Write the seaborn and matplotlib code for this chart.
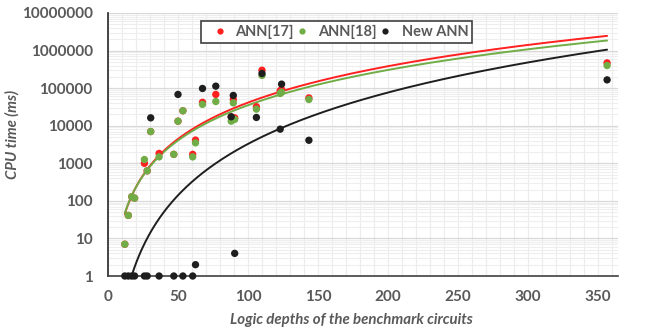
import numpy as np
import pandas as pd
import seaborn as sns
import matplotlib.pyplot as plt
from matplotlib.ticker import FixedLocator, LogLocator, MultipleLocator, NullFormatter

# logic depth of each benchmark circuit (same for all three methods)
depth = [12, 14.5, 17, 19, 26, 28, 30.5, 36.5, 47, 50, 53.5, 60.5, 62.5, 67.5,
         77, 88, 89.5, 90.5, 106, 110, 123, 124, 143.5, 356.5]
# CPU time (ms)
ann17 = [7, 41, 129, 118, 1000, 630, 7000, 1830, 1730, 13200, 25000, 1730, 4150, 42000,
         68000, 17000, 50000, 16200, 32000, 300000, 85000, 92000, 55000, 470000]
ann18 = [7, 41, 129, 118, 1260, 630, 7000, 1480, 1730, 13200, 25000, 1480, 3500, 37000,
         44000, 13200, 40500, 14700, 27600, 218000, 72000, 78000, 50000, 400000]
new_ann = [1, 1, 1, 1, 1, 1, 16200, 1, 1, 68000, 1, 1, 2, 98000,
           113000, 17300, 64000, 4, 16600, 245000, 8100, 128000, 4100, 166000]

x_ticks = [0, 50, 100, 150, 200, 250, 300, 350]
y_ticks = [1, 10, 100, 1000, 10000, 100000, 1000000, 10000000]

sns.set_theme(style='white')
plt.rcParams['font.family'] = ['Lato', 'DejaVu Sans']
plt.rcParams['font.weight'] = 'bold'
grey = '#595959'

series = {'ANN[17]': ann17, 'ANN[18]': ann18, 'New ANN': new_ann}
colors = {'ANN[17]': '#ff2020', 'ANN[18]': '#70ad47', 'New ANN': '#1e1e1e'}

df = pd.concat([pd.DataFrame({'depth': depth, 'cpu': v, 'method': k}) for k, v in series.items()])

# power trendlines, fitted like excel does (log-log least squares)
xs = np.linspace(min(depth), max(depth), 400)
trend = []
for k, v in series.items():
    b, a = np.polyfit(np.log10(depth), np.log10(v), 1)
    trend.append(pd.DataFrame({'depth': xs, 'cpu': 10 ** a * xs ** b, 'method': k}))
trend = pd.concat(trend)

fig = plt.figure(figsize=(6.46, 3.32), dpi=100)
ax = fig.add_axes([108 / 646, 1 - 276 / 332, 510 / 646, 263 / 332])

sns.lineplot(data=trend, x='depth', y='cpu', hue='method', palette=colors, lw=1.4,
             legend=False, ax=ax, zorder=2)
sns.scatterplot(data=df, x='depth', y='cpu', hue='method', palette=colors, s=28,
                linewidth=0, ax=ax, clip_on=False, zorder=3)

ax.set_yscale('log')
ax.set_ylim(1, 1e7)
ax.set_xlim(0, 364.3)
ax.xaxis.set_major_locator(FixedLocator(x_ticks))
ax.xaxis.set_minor_locator(MultipleLocator(10))
ax.yaxis.set_major_locator(FixedLocator(y_ticks))
ax.yaxis.set_minor_locator(LogLocator(base=10, subs=np.arange(2, 10)))
ax.yaxis.set_minor_formatter(NullFormatter())
ax.set_yticklabels([str(t) for t in y_ticks], fontweight='bold')
ax.set_xticklabels([str(t) for t in x_ticks], fontweight='bold')

ax.grid(which='major', axis='y', color='#d9d9d9', lw=0.9)
ax.grid(which='minor', axis='y', color='#eeeeee', lw=0.8)
ax.grid(which='both', axis='x', color='#ececec', lw=0.8)
ax.set_axisbelow(True)

ax.tick_params(which='both', length=0, labelcolor=grey, labelsize=11)
ax.tick_params(axis='x', pad=10)
ax.tick_params(axis='y', pad=11)
for s in ['top', 'right']:
    ax.spines[s].set_visible(False)
ax.spines['left'].set_color('#262626')
ax.spines['bottom'].set_color('#404040')
ax.spines['left'].set_linewidth(1.2)
ax.spines['bottom'].set_linewidth(1.2)

ax.set_xlabel('Logic depths of the benchmark circuits', color=grey, fontsize=10.8,
              style='italic', weight='bold')
ax.set_ylabel('CPU time (ms)', color=grey, fontsize=10.8, style='italic', weight='bold')
ax.xaxis.set_label_coords(0.4775, -0.14)
ax.yaxis.set_label_coords(-0.1725, 0.54)

h, l = ax.get_legend_handles_labels()
ax.get_legend().remove()
leg = ax.legend(h, l, ncol=3, loc='center', mode='expand',
                bbox_to_anchor=(0.1686, 0.8897, 0.559, 0.076),
                frameon=True, fancybox=False, framealpha=1, edgecolor='#404040',
                prop={'size': 10.5, 'weight': 'bold'}, handletextpad=0.1,
                borderpad=0.25, markerscale=0.85)
leg.get_frame().set_linewidth(1.2)
for t in leg.get_texts():
    t.set_color(grey)

fig.savefig('out.png', dpi=100)
